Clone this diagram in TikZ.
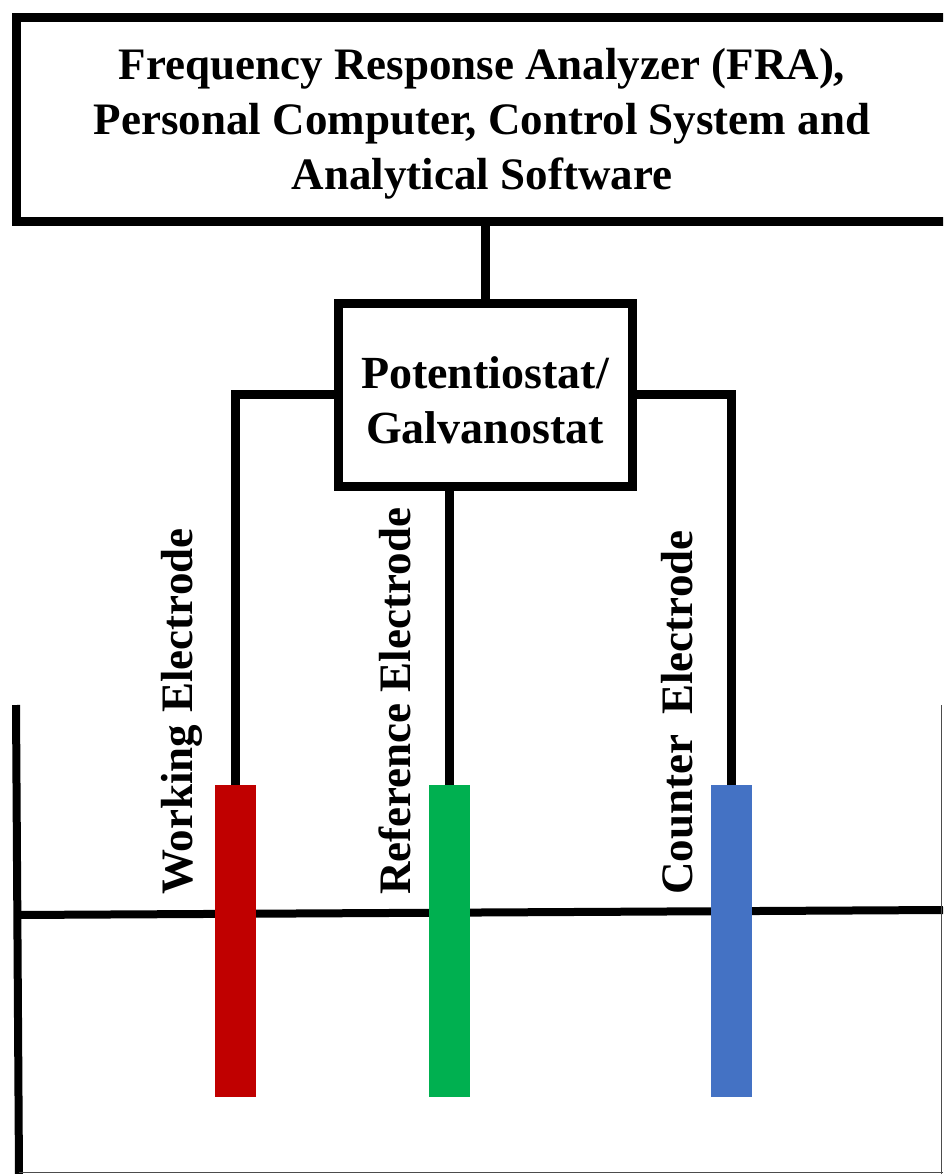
\documentclass[tikz,border=0pt]{standalone}
\usepackage{fontspec}
\setmainfont{Liberation Serif}
\definecolor{wered}{HTML}{C00000}
\definecolor{regreen}{HTML}{00B050}
\definecolor{ceblue}{HTML}{4472C4}
\begin{document}
\begin{tikzpicture}[x=1pt,y=-1pt,
  boxst/.style={draw=black,line width=9pt,fill=white,inner sep=0pt},
  wire/.style={draw=black,line width=9pt},
  elec/.style={rectangle,inner sep=0pt,minimum width=41pt,minimum height=312pt},
  titletext/.style={font=\fontsize{45}{55}\selectfont\bfseries,align=center,inner sep=0pt},
  pottext/.style={font=\fontsize{46}{55}\selectfont\bfseries,align=center,inner sep=0pt},
  labeltext/.style={font=\fontsize{45}{48}\selectfont\bfseries,rotate=90,anchor=base west,inner sep=0pt}]
\useasboundingbox (0,0) rectangle (943,1174);
\clip (0,0) rectangle (943,1174);
\fill[white] (0,0) rectangle (943,1174);
% top box
\node[boxst,minimum width=950pt,minimum height=204pt] (fra) at (491,120) {};
\node[titletext] (fratext) at (482,124) {Frequency Response Analyzer (FRA),\\Personal Computer, Control System and\\Analytical Software};
% potentiostat
\node[boxst,minimum width=294pt,minimum height=183pt] (pot) at (485,394.5) {};
\node[pottext] (pottxt) at (485,400) {Potentiostat/\\Galvanostat};
% beaker
\coordinate (bwtop) at (16,705);
\coordinate (bwbot) at (19,1174);
\coordinate (liqL) at (16,915);
\coordinate (liqR) at (943,910);
\coordinate (rwtop) at (941,705);
\coordinate (rwbot) at (941,1174);
\coordinate (botL) at (19,1172);
\coordinate (botR) at (943,1172);
\draw[line width=8pt] (bwtop) -- (bwbot);
\draw[line width=8pt] (liqL) -- (liqR);
\draw[line width=1pt,black!70] (rwtop) -- (rwbot);
\draw[line width=1pt,black!70] (botL) -- (botR);
% electrodes
\node[elec,fill=wered] (we) at (235,941) {};
\node[elec,fill=regreen] (re) at (449.5,941) {};
\node[elec,fill=ceblue] (ce) at (731.5,941) {};
% connectors
\draw[wire] (pot.north) -- (pot.north |- fra.south);
\draw[wire] (pot.west) -| (we.north);
\draw[wire] (pot.east) -| (ce.north);
\draw[wire] (re.north) -- (re.north |- pot.south);
% labels
\node[labeltext] (welab) at (192,895) {Working\hspace{0.27em}Electrode};
\node[labeltext] (relab) at (410,895) {Reference Electrode};
\node[labeltext] (celab) at (692,895) {Counter\hspace{0.45em}Electrode};
\end{tikzpicture}
\end{document}
